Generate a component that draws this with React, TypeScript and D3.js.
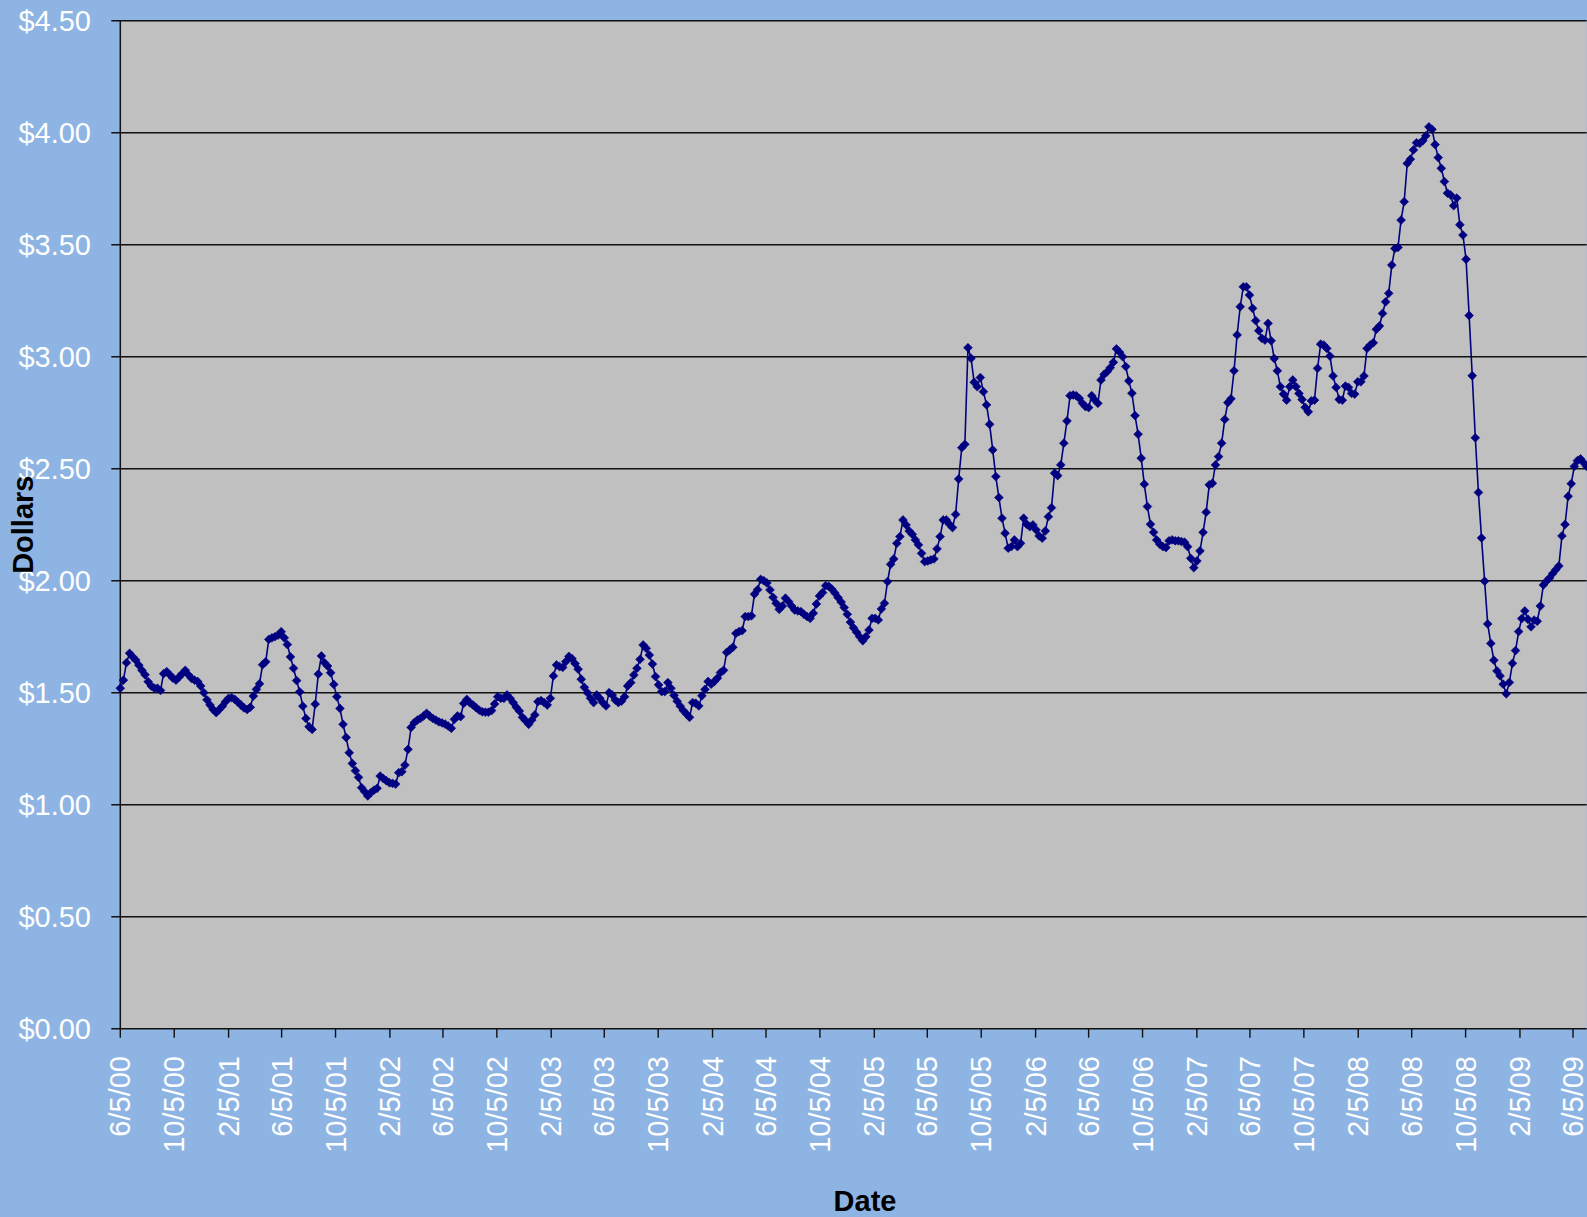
import * as d3 from "d3";

// weekly average price, first week 6/5/00, one value per week
const startDate = new Date(2000, 5, 5);

const prices = [
  1.52, 1.556, 1.634, 1.676, 1.66, 1.646, 1.623, 1.6, 1.58, 1.549,
  1.53, 1.52, 1.52, 1.51, 1.585, 1.594, 1.58, 1.565, 1.556, 1.57,
  1.585, 1.6, 1.58, 1.564, 1.556, 1.55, 1.53, 1.5, 1.468, 1.445,
  1.425, 1.411, 1.425, 1.44, 1.46, 1.475, 1.478, 1.47, 1.458, 1.445,
  1.432, 1.425, 1.435, 1.485, 1.515, 1.54, 1.625, 1.638, 1.738, 1.745,
  1.75, 1.757, 1.772, 1.745, 1.715, 1.66, 1.609, 1.554, 1.504, 1.44,
  1.385, 1.348, 1.336, 1.449, 1.583, 1.664, 1.634, 1.619, 1.589, 1.537,
  1.482, 1.43, 1.359, 1.3, 1.232, 1.184, 1.152, 1.122, 1.076, 1.058,
  1.039, 1.054, 1.065, 1.073, 1.128, 1.117, 1.107, 1.098, 1.095, 1.092,
  1.143, 1.147, 1.177, 1.247, 1.345, 1.366, 1.378, 1.385, 1.396, 1.408,
  1.396, 1.385, 1.378, 1.37, 1.365, 1.36, 1.351, 1.341, 1.381, 1.396,
  1.393, 1.452, 1.47, 1.455, 1.445, 1.433, 1.422, 1.415, 1.413, 1.413,
  1.42, 1.45, 1.482, 1.475, 1.475, 1.49, 1.475, 1.456, 1.435, 1.418,
  1.39, 1.375, 1.359, 1.378, 1.401, 1.46, 1.465, 1.456, 1.445, 1.475,
  1.575, 1.624, 1.616, 1.613, 1.639, 1.662, 1.652, 1.63, 1.605, 1.56,
  1.524, 1.5, 1.475, 1.456, 1.49, 1.475, 1.455, 1.441, 1.5, 1.49,
  1.467, 1.456, 1.462, 1.482, 1.53, 1.545, 1.579, 1.609, 1.649, 1.713,
  1.698, 1.668, 1.628, 1.572, 1.535, 1.505, 1.505, 1.545, 1.52, 1.488,
  1.462, 1.44, 1.42, 1.405, 1.39, 1.456, 1.453, 1.441, 1.486, 1.515,
  1.55, 1.538, 1.55, 1.565, 1.59, 1.6, 1.68, 1.691, 1.703, 1.765,
  1.773, 1.777, 1.84, 1.84, 1.843, 1.94, 1.96, 2.006, 2.0, 1.99,
  1.959, 1.926, 1.899, 1.872, 1.887, 1.922, 1.907, 1.887, 1.869, 1.865,
  1.862, 1.85, 1.84, 1.832, 1.855, 1.896, 1.932, 1.947, 1.978, 1.975,
  1.962, 1.945, 1.925, 1.905, 1.88, 1.85, 1.815, 1.79, 1.77, 1.75,
  1.732, 1.75, 1.78, 1.832, 1.832, 1.825, 1.874, 1.899, 1.996, 2.073,
  2.097, 2.167, 2.197, 2.271, 2.249, 2.222, 2.207, 2.182, 2.16, 2.122,
  2.085, 2.088, 2.093, 2.097, 2.142, 2.197, 2.271, 2.271, 2.252, 2.237,
  2.296, 2.454, 2.594, 2.609, 3.04, 2.993, 2.886, 2.866, 2.907, 2.844,
  2.785, 2.698, 2.584, 2.465, 2.371, 2.279, 2.212, 2.145, 2.152, 2.182,
  2.152, 2.167, 2.279, 2.252, 2.241, 2.249, 2.227, 2.2, 2.19, 2.222,
  2.286, 2.326, 2.48, 2.469, 2.517, 2.614, 2.713, 2.826, 2.829, 2.826,
  2.814, 2.792, 2.777, 2.773, 2.826, 2.807, 2.792, 2.896, 2.921, 2.933,
  2.951, 2.975, 3.035, 3.02, 3.0, 2.956, 2.892, 2.837, 2.737, 2.654,
  2.547, 2.431, 2.331, 2.252, 2.216, 2.182, 2.163, 2.152, 2.148, 2.178,
  2.182, 2.178, 2.178, 2.175, 2.172, 2.152, 2.1, 2.058, 2.088, 2.133,
  2.216, 2.306, 2.428, 2.435, 2.517, 2.554, 2.614, 2.72, 2.795, 2.812,
  2.937, 3.097, 3.223, 3.312, 3.312, 3.275, 3.216, 3.161, 3.116, 3.082,
  3.074, 3.149, 3.071, 2.992, 2.937, 2.866, 2.833, 2.806, 2.866, 2.896,
  2.866, 2.836, 2.809, 2.774, 2.754, 2.803, 2.806, 2.948, 3.056, 3.052,
  3.037, 3.003, 2.914, 2.863, 2.809, 2.806, 2.869, 2.863, 2.836, 2.833,
  2.888, 2.888, 2.914, 3.037, 3.052, 3.062, 3.122, 3.137, 3.193, 3.245,
  3.283, 3.409, 3.483, 3.488, 3.61, 3.692, 3.863, 3.882, 3.923, 3.955,
  3.952, 3.964, 3.986, 4.026, 4.015, 3.947, 3.889, 3.841, 3.782, 3.73,
  3.722, 3.674, 3.708, 3.589, 3.543, 3.435, 3.184, 2.915, 2.638, 2.394,
  2.191, 1.998, 1.807, 1.72, 1.645, 1.597, 1.575, 1.538, 1.495, 1.546,
  1.631, 1.688, 1.773, 1.831, 1.865, 1.828, 1.794, 1.824, 1.819, 1.887,
  1.981, 1.998, 2.012, 2.032, 2.049, 2.066, 2.2, 2.251, 2.377, 2.433,
  2.51, 2.536, 2.544, 2.527, 2.51,
];

const yTicks = [0, 0.5, 1, 1.5, 2, 2.5, 3, 3.5, 4, 4.5];

const xTickLabels = [
  "6/5/00", "10/5/00", "2/5/01", "6/5/01", "10/5/01", "2/5/02", "6/5/02",
  "10/5/02", "2/5/03", "6/5/03", "10/5/03", "2/5/04", "6/5/04", "10/5/04",
  "2/5/05", "6/5/05", "10/5/05", "2/5/06", "6/5/06", "10/5/06", "2/5/07",
  "6/5/07", "10/5/07", "2/5/08", "6/5/08", "10/5/08", "2/5/09", "6/5/09",
];

const width = 1587;
const height = 1217;
const margin = { top: 20.7, right: 0.3, bottom: 188.3, left: 120.3 };
const font = "'Liberation Sans', Arial, sans-serif";

export default function App() {
  const data = prices.map((v, i) => ({
    date: d3.timeDay.offset(startDate, i * 7),
    value: v,
  }));

  const x = d3
    .scaleTime()
    .domain([data[0].date, data[data.length - 1].date])
    .range([margin.left, width - margin.right]);

  const y = d3
    .scaleLinear()
    .domain([0, 4.5])
    .range([height - margin.bottom, margin.top]);

  const parse = d3.timeParse("%m/%d/%y");
  const fmt = d3.format("$.2f");

  const line = d3
    .line<{ date: Date; value: number }>()
    .x((d) => x(d.date))
    .y((d) => y(d.value));

  const r = 4.4;
  const diamond = `M0,${-r}L${r},0L0,${r}L${-r},0Z`;
  const plotBottom = y(0);

  return (
    <div style={{ position: "absolute", left: 0, top: 0 }}>
      <svg width={width} height={height} style={{ display: "block" }}>
        <rect width={width} height={height} fill="#8EB4E3" />
        <rect
          x={margin.left}
          y={margin.top}
          width={width - margin.left - margin.right}
          height={plotBottom - margin.top}
          fill="#C0C0C0"
        />

        {/* gridlines + y ticks */}
        {yTicks.map((t) => (
          <g key={t}>
            <line
              x1={margin.left - 9}
              x2={width - margin.right}
              y1={y(t)}
              y2={y(t)}
              stroke="#111"
              strokeWidth={1.5}
            />
            <text
              x={91}
              y={y(t)}
              dy="0.35em"
              textAnchor="end"
              fill="#fff"
              fontFamily={font}
              fontSize={29}
            >
              {fmt(t)}
            </text>
          </g>
        ))}

        {/* axes */}
        <line
          x1={margin.left}
          x2={margin.left}
          y1={margin.top}
          y2={plotBottom}
          stroke="#111"
          strokeWidth={1.5}
        />
        {xTickLabels.map((lbl) => {
          const tx = x(parse(lbl) as Date);
          return (
            <g key={lbl}>
              <line
                x1={tx}
                x2={tx}
                y1={plotBottom}
                y2={plotBottom + 9}
                stroke="#111"
                strokeWidth={1.4}
              />
              <text
                transform={`translate(${tx},1056) rotate(-90)`}
                dy="0.35em"
                textAnchor="end"
                fill="#fff"
                fontFamily={font}
                fontSize={29}
              >
                {lbl}
              </text>
            </g>
          );
        })}

        {/* series */}
        <path
          d={line(data) ?? ""}
          fill="none"
          stroke="#000080"
          strokeWidth={1.6}
        />
        {data.map((d, i) => (
          <path
            key={i}
            d={diamond}
            transform={`translate(${x(d.date)},${y(d.value)})`}
            fill="#000080"
            stroke="#000080"
            strokeWidth={0.6}
          />
        ))}

        {/* axis titles */}
        <text
          transform={`translate(33,${(margin.top + plotBottom) / 2}) rotate(-90)`}
          textAnchor="middle"
          fontFamily={font}
          fontWeight="bold"
          fontSize={29}
          fill="#000"
        >
          Dollars
        </text>
        <text
          x={865}
          y={1211}
          textAnchor="middle"
          fontFamily={font}
          fontWeight="bold"
          fontSize={29}
          fill="#000"
        >
          Date
        </text>
      </svg>
    </div>
  );
}
